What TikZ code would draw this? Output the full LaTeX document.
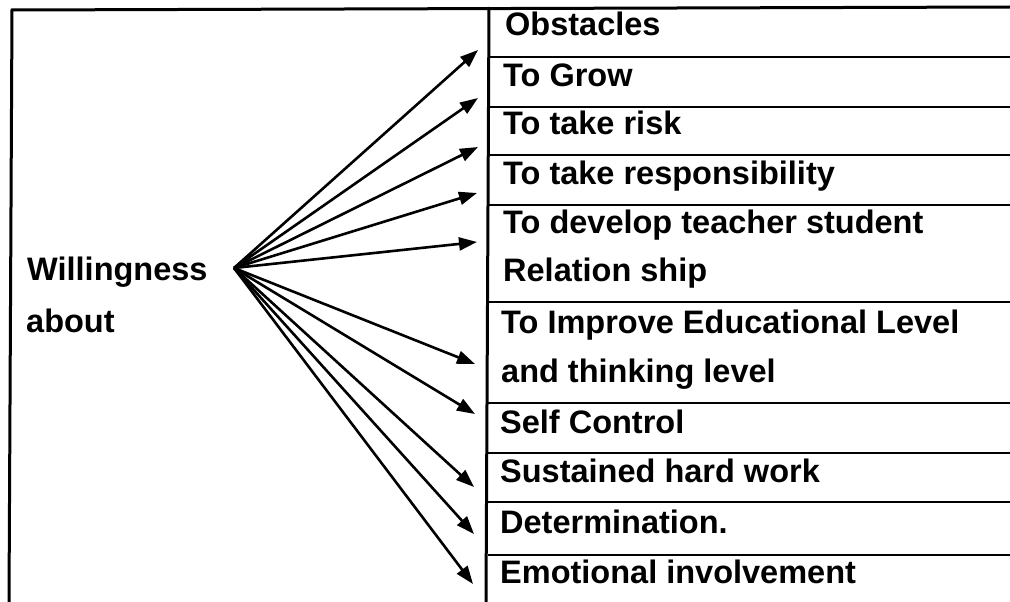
\documentclass[tikz,border=0pt]{standalone}
\usepackage{fontspec}
\setmainfont{Liberation Sans}
\usetikzlibrary{arrows.meta}
\begin{document}
\begin{tikzpicture}[x=1pt,y=-1pt,
  lbl/.style={anchor=base west, inner sep=0pt, font=\fontsize{32.5}{32.5}\selectfont\bfseries},
  frame/.style={line width=3pt},
  sep/.style={line width=2.3pt},
  arr/.style={line width=2.6pt, -{Triangle[length=18pt,width=13pt]}}]
\useasboundingbox (0,0) rectangle (1010,602);
% frames
\draw[frame] (9,602) -- (12,10) -- (1010,7);
\draw[frame] (486,602) -- (489,7);
\foreach \y in {57,107,155,205,302,403,453,502,555}
  \draw[sep] (488,\y) -- (1010,\y);
% left labels
\node[lbl] (w1) at (27,280) {Willingness};
\node[lbl] (w2) at (26,332) {about};
% right labels
\node[lbl] (r1) at (505,36) {Obstacles};
\node[lbl] (r2) at (503,86) {To Grow};
\node[lbl] (r3) at (503,135) {To take risk};
\node[lbl] (r4) at (503,184) {To take responsibility};
\node[lbl] (r5a) at (503,233) {To develop teacher student};
\node[lbl] (r5b) at (503,281) {Relation ship};
\node[lbl] (r6a) at (501,333) {To Improve Educational Level};
\node[lbl] (r6b) at (501,382) {and thinking level};
\node[lbl] (r7) at (500,433) {Self Control};
\node[lbl] (r8) at (500,482) {Sustained hard work};
\node[lbl] (r9) at (500,533) {Determination.};
\node[lbl] (r10) at (500,583) {Emotional involvement};
% arrows
\coordinate (src) at (234,268);
\coordinate (t1) at (478,50);
\coordinate (t2) at (478,98);
\coordinate (t3) at (478,147);
\coordinate (t4) at (477,193);
\coordinate (t5) at (477,242);
\coordinate (t6) at (475,364);
\coordinate (t7) at (475,414);
\coordinate (t8) at (474,487);
\coordinate (t9) at (474,534);
\coordinate (t10) at (473,584);
\foreach \t in {t1,t2,t3,t4,t5,t6,t7,t8,t9,t10}
  \draw[arr] (src) -- (\t);
\end{tikzpicture}
\end{document}
